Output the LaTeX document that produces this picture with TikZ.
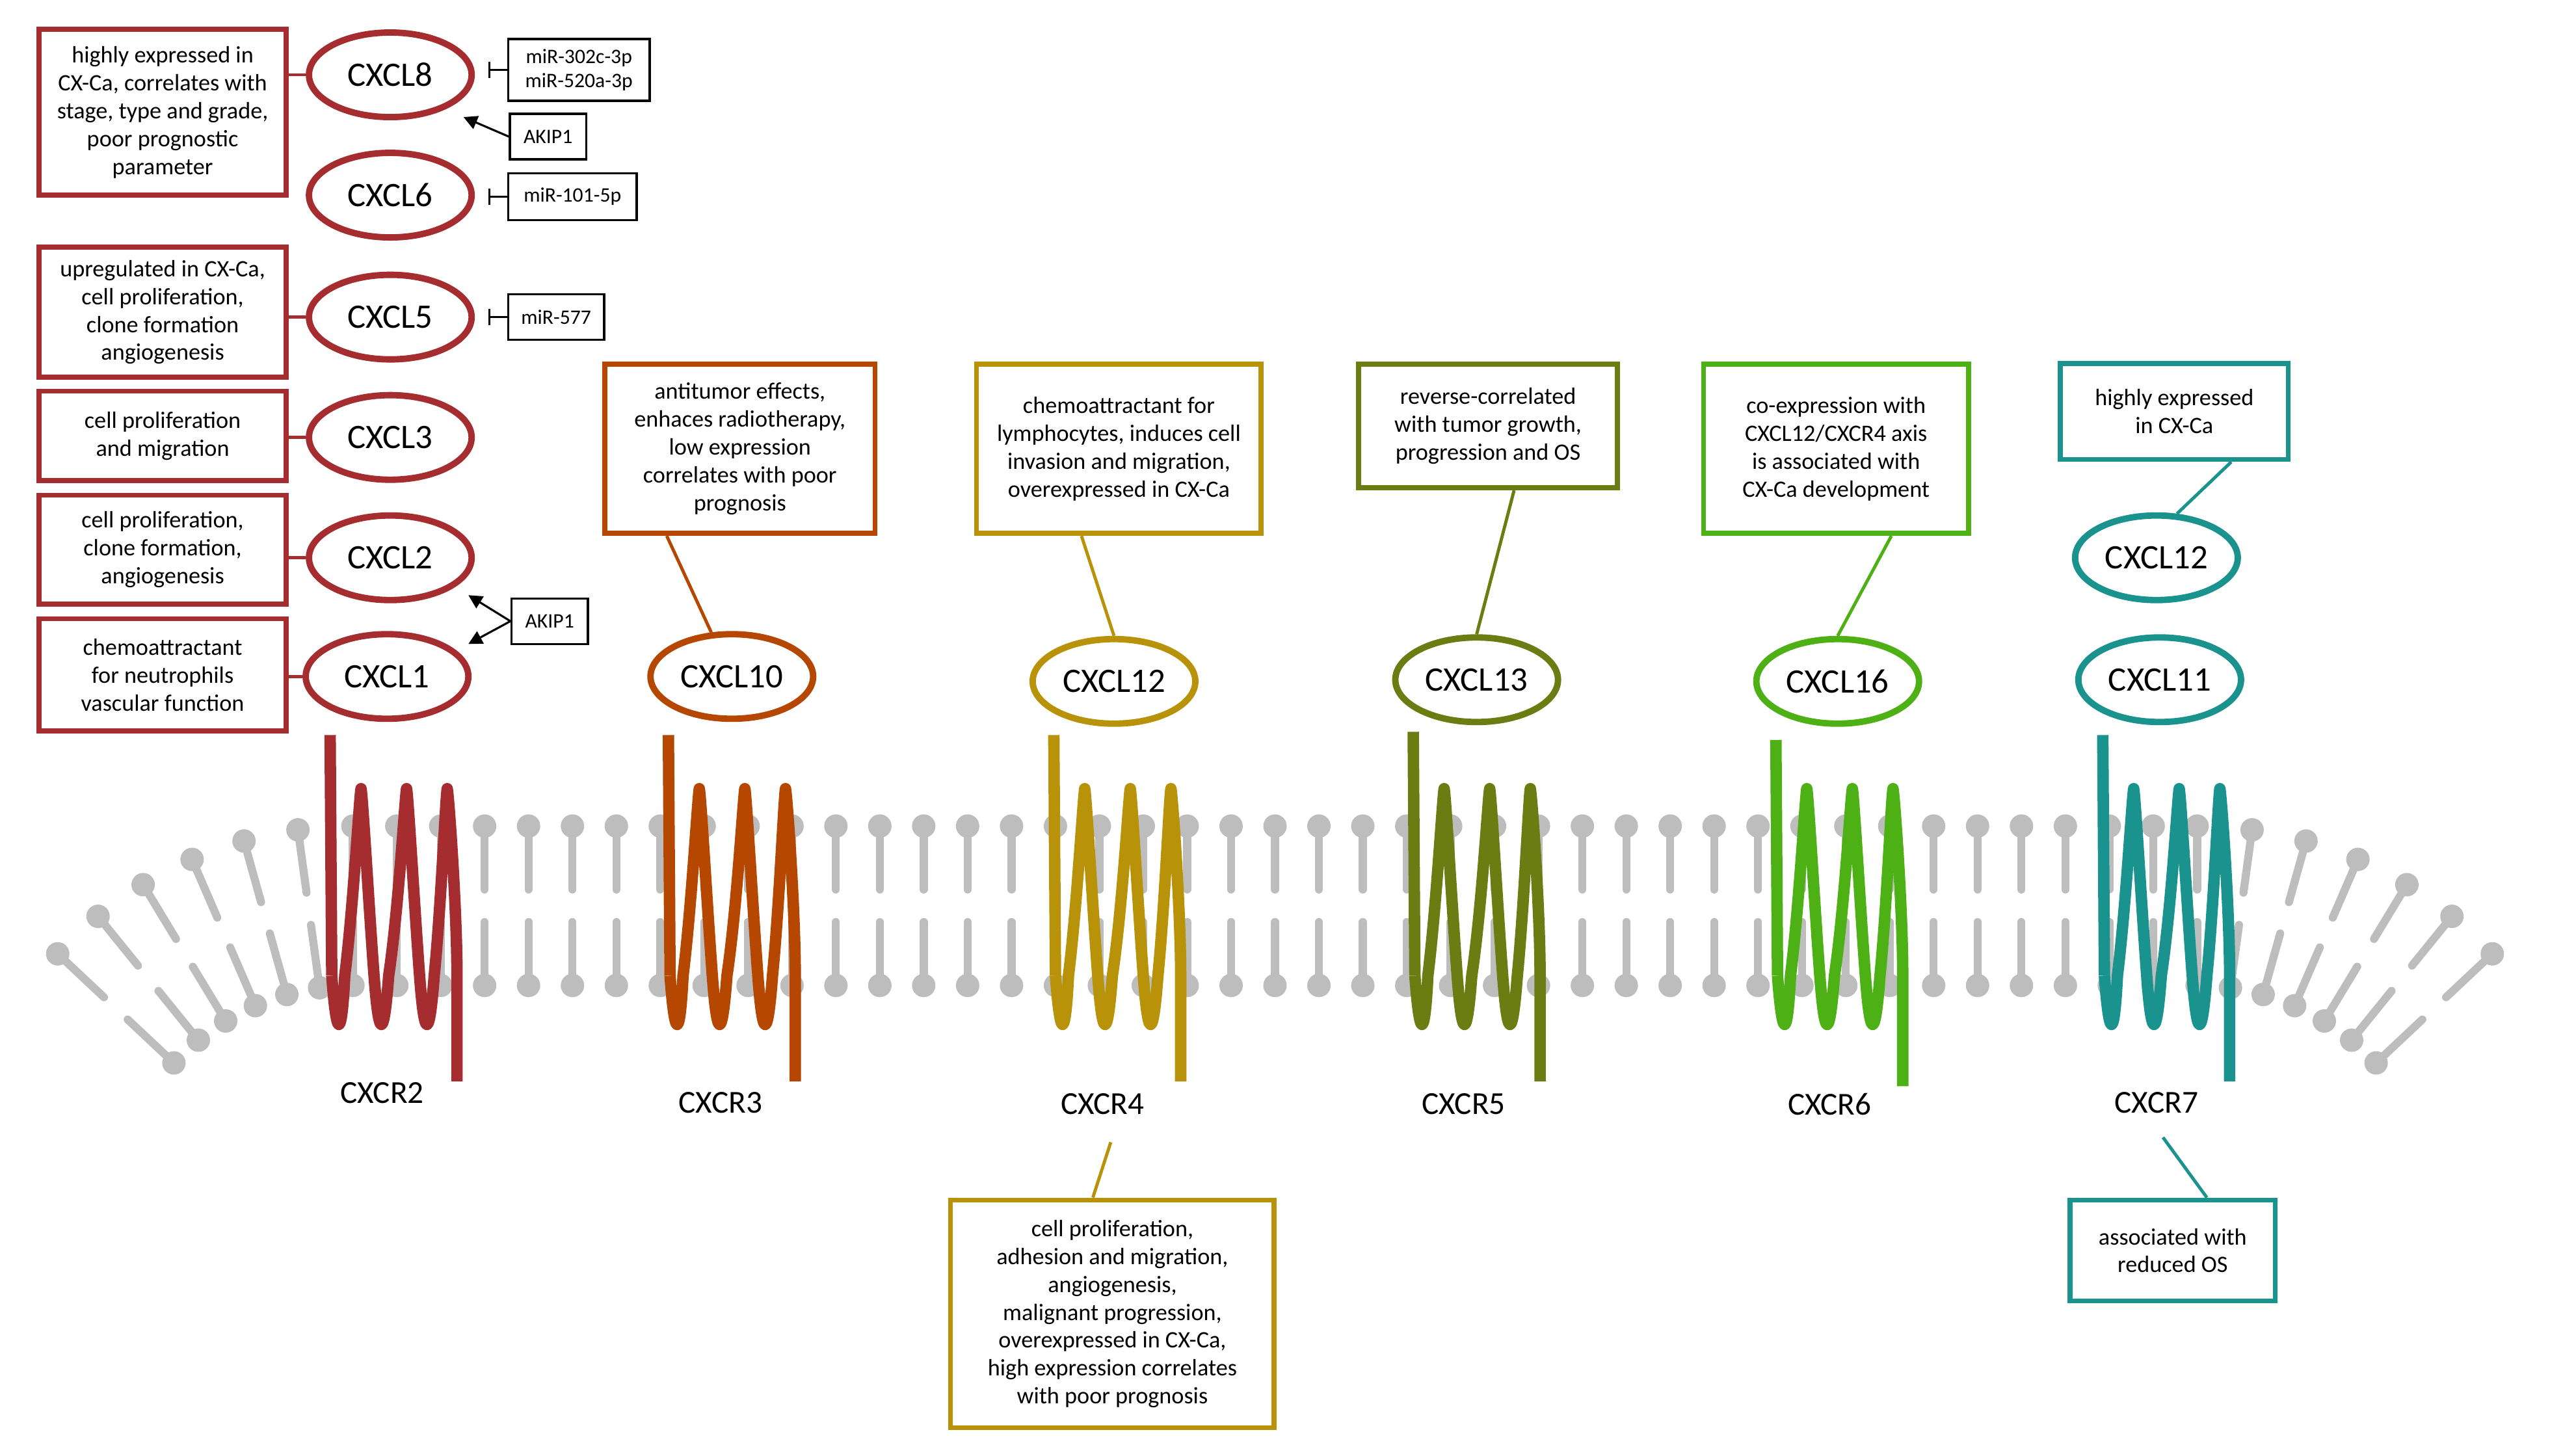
\documentclass[tikz,border=0pt]{standalone}
\usepackage{fontspec}
\setmainfont{Carlito}
\usetikzlibrary{arrows.meta,shapes.geometric,calc}
\definecolor{cR2}{HTML}{A62D2F}
\definecolor{cR3}{HTML}{B54700}
\definecolor{cR4}{HTML}{B8930A}
\definecolor{cR5}{HTML}{6B7D12}
\definecolor{cR6}{HTML}{4DB014}
\definecolor{cR7}{HTML}{1A938E}
\definecolor{lip}{HTML}{BDBDBD}
\newcommand\mylipid[3]{%
  \begin{scope}[shift={(#1,#2)},rotate=#3]
    \draw[lip,line width=3.5pt,line cap=round] (0,-49) -- (0,-10) (0,49) -- (0,10);
    \fill[lip] (0,-49) circle[radius=0.18cm] (0,49) circle[radius=0.18cm];
  \end{scope}}
\newcommand\myreceptor[4]{%
  \draw[#4,line width=5pt,line join=round]
    (#1,#2) -- ($(#1,600)+(2,0)$) to[out=-90,in=-90,looseness=1.2] ($(#1,485)+(19,0)$) to[out=-90,in=-90,looseness=1.2] ($(#1,632)+(33,0)$)
    ($(#1,632)+(5,0)$) coordinate (dummy)
    ;
  \draw[#4,line width=5pt,line join=round]
    ($(#1,600)+(1,0)$) .. controls ($(#1,640)+(4,0)$) and ($(#1,640)+(7,0)$) .. ($(#1,600)+(9,0)$)
    .. controls ($(#1,560)+(14,0)$) and ($(#1,490)+(18,0)$) .. ($(#1,485)+(19,0)$)
    .. controls ($(#1,490)+(20,0)$) and ($(#1,600)+(24,0)$) .. ($(#1,610)+(26,0)$)
    .. controls ($(#1,640)+(30,0)$) and ($(#1,640)+(33,0)$) .. ($(#1,610)+(35,0)$)
    .. controls ($(#1,560)+(42,0)$) and ($(#1,490)+(46,0)$) .. ($(#1,485)+(47,0)$)
    .. controls ($(#1,490)+(48,0)$) and ($(#1,600)+(52,0)$) .. ($(#1,610)+(54,0)$)
    .. controls ($(#1,640)+(58,0)$) and ($(#1,640)+(61,0)$) .. ($(#1,610)+(63,0)$)
    .. controls ($(#1,560)+(68,0)$) and ($(#1,490)+(71,0)$) .. ($(#1,485)+(72,0)$)
    .. controls ($(#1,490)+(73,0)$) and ($(#1,560)+(78,0)$) .. ($(#1,600)+(78,0)$) -- ($(#1,#3)+(78,0)$);}
\begin{document}
\begin{tikzpicture}[x=0.025cm,y=-0.025cm,
  lig/.style={draw,ellipse,line width=2.8pt,minimum width=2.5cm,minimum height=1.3cm,inner sep=0pt,font=\fontsize{15}{17}\selectfont},
  box/.style={draw,line width=2.2pt,align=center,inner sep=0pt,font=\fontsize{10.3}{12.2}\selectfont},
  sbox/.style={draw,line width=0.9pt,align=center,inner sep=0pt,font=\fontsize{9}{10.5}\selectfont},
  con/.style={line width=1.4pt},
  inh/.style={line width=0.9pt,-{Bar[width=7pt]}},
  act/.style={line width=0.9pt,-{Triangle[length=6pt,width=6pt]}},
  rl/.style={font=\fontsize{14}{16}\selectfont}]
\useasboundingbox (0,0) rectangle (1568,895);
% membrane
\foreach \i in {0,...,42}{\pgfmathsetmacro\xx{217+27*\i}\mylipid{\xx}{557}{0}}
\foreach \k in {1,...,6}{
  \pgfmathsetmacro\th{7.8*\k}
  \pgfmathsetmacro\xl{217-200*sin(\th)}
  \pgfmathsetmacro\xr{1351+200*sin(\th)}
  \pgfmathsetmacro\yy{757-200*cos(\th)}
  \mylipid{\xl}{\yy}{\th}
  \mylipid{\xr}{\yy}{-\th}}
% receptors
\newcommand\myrec[4]{\draw[#4,line width=5pt,line join=round] (#1,#2) -- ($(#1,600)+(1,0)$);
  \myreceptorb{#1}{#3}{#4}}
\newcommand\myreceptorb[3]{%
  \draw[#3,line width=5pt,line join=round]
    ($(#1,600)+(1,0)$) .. controls ($(#1,640)+(4,0)$) and ($(#1,640)+(7,0)$) .. ($(#1,600)+(9,0)$)
    .. controls ($(#1,560)+(14,0)$) and ($(#1,490)+(18,0)$) .. ($(#1,485)+(19,0)$)
    .. controls ($(#1,490)+(20,0)$) and ($(#1,560)+(24,0)$) .. ($(#1,600)+(27,0)$)
    .. controls ($(#1,640)+(30,0)$) and ($(#1,640)+(33,0)$) .. ($(#1,600)+(36,0)$)
    .. controls ($(#1,560)+(42,0)$) and ($(#1,490)+(46,0)$) .. ($(#1,485)+(47,0)$)
    .. controls ($(#1,490)+(48,0)$) and ($(#1,560)+(52,0)$) .. ($(#1,600)+(55,0)$)
    .. controls ($(#1,640)+(58,0)$) and ($(#1,640)+(61,0)$) .. ($(#1,600)+(64,0)$)
    .. controls ($(#1,560)+(68,0)$) and ($(#1,490)+(71,0)$) .. ($(#1,485)+(72,0)$)
    .. controls ($(#1,490)+(73,0)$) and ($(#1,560)+(78,0)$) .. ($(#1,600)+(78,0)$) -- ($(#1,#2)+(78,0)$);}
\myrec{203}{452}{665}{cR2}
\myrec{411}{452}{665}{cR3}
\myrec{648}{452}{665}{cR4}
\myrec{869}{450}{665}{cR5}
\myrec{1092}{455}{668}{cR6}
\myrec{1293}{452}{665}{cR7}
\node[rl] (r2) at (235,672) {CXCR2};
\node[rl] (r3) at (443,678) {CXCR3};
\node[rl] (r4) at (678,679) {CXCR4};
\node[rl] (r5) at (900,679) {CXCR5};
\node[rl] (r6) at (1125,679) {CXCR6};
\node[rl] (r7) at (1326,678) {CXCR7};
% left ligands
\begin{scope}[every node/.append style={cR2}]
\node[lig] (l8) at (240,46) {\color{black}CXCL8};
\node[lig] (l6) at (240,120) {\color{black}CXCL6};
\node[lig] (l5) at (240,195) {\color{black}CXCL5};
\node[lig] (l3) at (240,269) {\color{black}CXCL3};
\node[lig] (l2) at (240,343) {\color{black}CXCL2};
\node[lig] (l1) at (238,416) {\color{black}CXCL1};
\node[box,minimum width=3.8cm,minimum height=2.55cm] (b8) at (100,69) {\color{black}highly expressed in\\\color{black}CX-Ca, correlates with\\\color{black}stage, type and grade,\\\color{black}poor prognostic\\\color{black}parameter};
\node[box,minimum width=3.8cm,minimum height=2.0cm] (b5) at (100,192) {\color{black}upregulated in CX-Ca,\\\color{black}cell proliferation,\\\color{black}clone formation\\\color{black}angiogenesis};
\node[box,minimum width=3.8cm,minimum height=1.375cm] (b3) at (100,268) {\color{black}cell proliferation\\\color{black}and migration};
\node[box,minimum width=3.8cm,minimum height=1.675cm] (b2) at (100,338) {\color{black}cell proliferation,\\\color{black}clone formation,\\\color{black}angiogenesis};
\node[box,minimum width=3.8cm,minimum height=1.725cm] (b1) at (100,415) {\color{black}chemoattractant\\\color{black}for neutrophils\\\color{black}vascular function};
\end{scope}
\foreach \l/\b in {l8/b8,l5/b5,l3/b3,l2/b2,l1/b1}
  \draw[cR2,con] (\l.west) -- (\l.west -| \b.east);
% regulators
\node[sbox,minimum width=2.175cm,minimum height=0.95cm] (m1) at (356,43) {miR-302c-3p\\miR-520a-3p};
\node[sbox,minimum width=1.175cm,minimum height=0.7cm] (a1) at (337,84) {AKIP1};
\node[sbox,minimum width=1.975cm,minimum height=0.725cm] (m2) at (352,121) {miR-101-5p};
\node[sbox,minimum width=1.475cm,minimum height=0.7cm] (m3) at (342,195) {miR-577};
\node[sbox,minimum width=1.175cm,minimum height=0.7cm] (a2) at (338,382) {AKIP1};
\draw[inh,shorten >=6pt] (m1.west) -- (m1.west -| l8.east);
\draw[inh,shorten >=6pt] (m2.west) -- (m2.west -| l6.east);
\draw[inh,shorten >=6pt] (m3.west) -- (m3.west -| l5.east);
\coordinate (a1t) at (285,72);
\coordinate (a2t) at (288,366);
\coordinate (a2b) at (288,396);
\draw[act] (a1.west) -- (a1t);
\draw[act] (a2.west) -- (a2t);
\draw[act] (a2.west) -- (a2b);
% other ligands
\node[lig,cR3] (l10) at (450,416) {\color{black}CXCL10};
\node[lig,cR4] (l12) at (685,419) {\color{black}CXCL12};
\node[lig,cR5] (l13) at (908,418) {\color{black}CXCL13};
\node[lig,cR6] (l16) at (1130,419) {\color{black}CXCL16};
\node[lig,cR7] (l12t) at (1326,343) {\color{black}CXCL12};
\node[lig,cR7] (l11) at (1328,418) {\color{black}CXCL11};
\node[box,cR3,minimum width=4.15cm,minimum height=2.6cm] (t10) at (455,276) {\color{black}antitumor effects,\\\color{black}enhaces radiotherapy,\\\color{black}low expression\\\color{black}correlates with poor\\\color{black}prognosis};
\node[box,cR4,minimum width=4.375cm,minimum height=2.6cm] (t12) at (688,276) {\color{black}chemoattractant for\\\color{black}lymphocytes, induces cell\\\color{black}invasion and migration,\\\color{black}overexpressed in CX-Ca};
\node[box,cR5,minimum width=3.975cm,minimum height=1.9cm] (t13) at (915,262) {\color{black}reverse-correlated\\\color{black}with tumor growth,\\\color{black}progression and OS};
\node[box,cR6,minimum width=4.075cm,minimum height=2.6cm] (t16) at (1129,276) {\color{black}co-expression with\\\color{black}CXCL12/CXCR4 axis\\\color{black}is associated with\\\color{black}CX-Ca development};
\node[box,cR7,minimum width=3.5cm,minimum height=1.475cm] (t12t) at (1337,253) {\color{black}highly expressed\\\color{black}in CX-Ca};
\node[box,cR4,minimum width=4.975cm,minimum height=3.5cm] (b4) at (684,808) {\color{black}cell proliferation,\\\color{black}adhesion and migration,\\\color{black}angiogenesis,\\\color{black}malignant progression,\\\color{black}overexpressed in CX-Ca,\\\color{black}high expression correlates\\\color{black}with poor prognosis};
\node[box,cR7,minimum width=3.15cm,minimum height=1.55cm] (b7) at (1336,769) {\color{black}associated with\\\color{black}reduced OS};
\draw[cR3,con] ($(t10.south)+(-45,0)$) -- (l10.115);
\draw[cR4,con] ($(t12.south)+(-23,0)$) -- (l12.north);
\draw[cR5,con] ($(t13.south)+(16,0)$) -- (l13.north);
\draw[cR6,con] ($(t16.south)+(34,0)$) -- (l16.north);
\draw[cR7,con] ($(t12t.south)+(35,0)$) -- (l12t.65);
\draw[cR4,con] ($(r4.south)+(5,12)$) -- ($(b4.north)+(-12,0)$);
\draw[cR7,con] ($(r7.south)+(4,10)$) -- ($(b7.north)+(21,0)$);
\end{tikzpicture}
\end{document}
